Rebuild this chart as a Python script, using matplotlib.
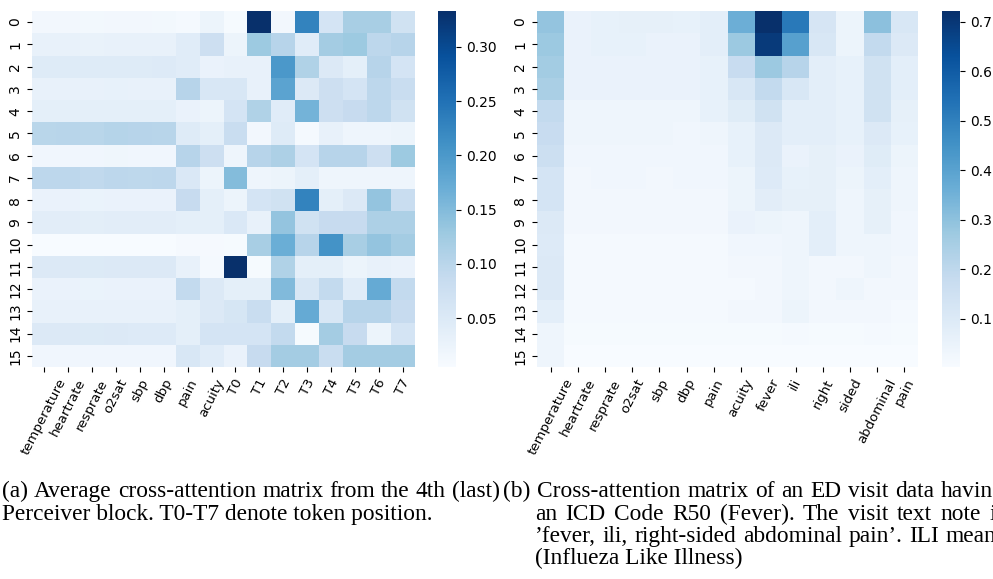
import numpy as np
import matplotlib
matplotlib.use("Agg")
import matplotlib.pyplot as plt
import seaborn as sns

# left: average cross-attention, 4th perceiver block
left_cols = ["temperature", "heartrate", "resprate", "o2sat", "sbp", "dbp",
             "pain", "acuity", "T0", "T1", "T2", "T3", "T4", "T5", "T6", "T7"]
left_vals = [
    [0.014, 0.014, 0.013, 0.014, 0.014, 0.013, 0.011, 0.024, 0.008, 0.333, 0.014, 0.228, 0.063, 0.119, 0.119, 0.070],
    [0.030, 0.030, 0.029, 0.030, 0.030, 0.030, 0.043, 0.076, 0.024, 0.129, 0.103, 0.043, 0.122, 0.129, 0.096, 0.103],
    [0.047, 0.047, 0.046, 0.047, 0.047, 0.048, 0.043, 0.027, 0.030, 0.030, 0.201, 0.109, 0.050, 0.037, 0.103, 0.063],
    [0.030, 0.030, 0.030, 0.031, 0.030, 0.030, 0.103, 0.057, 0.057, 0.030, 0.185, 0.050, 0.076, 0.063, 0.096, 0.083],
    [0.037, 0.037, 0.036, 0.037, 0.037, 0.037, 0.027, 0.024, 0.063, 0.109, 0.043, 0.162, 0.076, 0.086, 0.096, 0.070],
    [0.101, 0.102, 0.100, 0.104, 0.103, 0.102, 0.047, 0.037, 0.083, 0.014, 0.047, 0.011, 0.030, 0.020, 0.020, 0.024],
    [0.017, 0.017, 0.017, 0.018, 0.017, 0.017, 0.103, 0.076, 0.020, 0.103, 0.113, 0.063, 0.103, 0.103, 0.076, 0.129],
    [0.096, 0.097, 0.093, 0.096, 0.095, 0.096, 0.053, 0.024, 0.149, 0.020, 0.024, 0.037, 0.020, 0.020, 0.020, 0.020],
    [0.027, 0.027, 0.026, 0.027, 0.027, 0.027, 0.086, 0.037, 0.024, 0.063, 0.070, 0.228, 0.037, 0.050, 0.136, 0.083],
    [0.040, 0.040, 0.039, 0.040, 0.040, 0.040, 0.037, 0.037, 0.053, 0.030, 0.136, 0.070, 0.086, 0.086, 0.113, 0.113],
    [0.006, 0.006, 0.005, 0.006, 0.006, 0.006, 0.010, 0.010, 0.008, 0.119, 0.169, 0.103, 0.208, 0.119, 0.136, 0.122],
    [0.050, 0.050, 0.049, 0.050, 0.050, 0.050, 0.030, 0.011, 0.333, 0.008, 0.109, 0.037, 0.037, 0.024, 0.030, 0.027],
    [0.027, 0.027, 0.026, 0.027, 0.027, 0.027, 0.090, 0.050, 0.037, 0.037, 0.152, 0.057, 0.090, 0.043, 0.175, 0.090],
    [0.030, 0.030, 0.030, 0.030, 0.030, 0.030, 0.037, 0.050, 0.060, 0.083, 0.037, 0.175, 0.057, 0.103, 0.103, 0.086],
    [0.050, 0.050, 0.049, 0.050, 0.048, 0.048, 0.037, 0.063, 0.063, 0.063, 0.090, 0.008, 0.122, 0.086, 0.024, 0.063],
    [0.017, 0.017, 0.017, 0.017, 0.017, 0.017, 0.057, 0.043, 0.027, 0.086, 0.122, 0.122, 0.083, 0.122, 0.122, 0.122],
]

# right: one ED visit with ICD R50 (fever)
right_cols = ["temperature", "heartrate", "resprate", "o2sat", "sbp", "dbp",
              "pain", "acuity", "fever", "ili", "right", "sided", "abdominal", "pain"]
right_vals = [
    [0.289, 0.051, 0.059, 0.066, 0.066, 0.059, 0.073, 0.361, 0.722, 0.520, 0.124, 0.044, 0.304, 0.116],
    [0.275, 0.051, 0.059, 0.059, 0.051, 0.051, 0.073, 0.275, 0.693, 0.405, 0.116, 0.044, 0.188, 0.102],
    [0.261, 0.051, 0.051, 0.051, 0.051, 0.051, 0.059, 0.174, 0.275, 0.217, 0.073, 0.059, 0.145, 0.073],
    [0.246, 0.051, 0.051, 0.051, 0.051, 0.051, 0.059, 0.116, 0.188, 0.116, 0.073, 0.059, 0.145, 0.073],
    [0.188, 0.037, 0.037, 0.037, 0.037, 0.037, 0.059, 0.088, 0.145, 0.073, 0.073, 0.059, 0.145, 0.066],
    [0.174, 0.037, 0.037, 0.037, 0.037, 0.030, 0.037, 0.059, 0.102, 0.073, 0.073, 0.059, 0.102, 0.059],
    [0.160, 0.030, 0.030, 0.030, 0.030, 0.030, 0.030, 0.059, 0.102, 0.051, 0.066, 0.051, 0.088, 0.044],
    [0.131, 0.023, 0.030, 0.030, 0.023, 0.030, 0.030, 0.044, 0.095, 0.059, 0.066, 0.044, 0.073, 0.037],
    [0.131, 0.023, 0.023, 0.023, 0.023, 0.023, 0.023, 0.044, 0.080, 0.066, 0.066, 0.037, 0.066, 0.037],
    [0.102, 0.023, 0.023, 0.023, 0.023, 0.023, 0.023, 0.051, 0.044, 0.037, 0.073, 0.037, 0.066, 0.030],
    [0.095, 0.015, 0.015, 0.015, 0.015, 0.015, 0.015, 0.030, 0.030, 0.037, 0.073, 0.037, 0.037, 0.030],
    [0.102, 0.015, 0.015, 0.015, 0.015, 0.015, 0.015, 0.023, 0.023, 0.037, 0.023, 0.023, 0.037, 0.023],
    [0.102, 0.015, 0.015, 0.015, 0.015, 0.015, 0.015, 0.015, 0.023, 0.037, 0.023, 0.037, 0.023, 0.023],
    [0.073, 0.015, 0.015, 0.015, 0.015, 0.015, 0.015, 0.023, 0.023, 0.044, 0.023, 0.023, 0.023, 0.015],
    [0.037, 0.008, 0.008, 0.008, 0.008, 0.008, 0.008, 0.008, 0.008, 0.015, 0.008, 0.008, 0.015, 0.008],
    [0.037, 0.002, 0.002, 0.002, 0.002, 0.002, 0.002, 0.002, 0.002, 0.002, 0.002, 0.002, 0.002, 0.002],
]

row_labels = [str(i) for i in range(16)]

caption_a = ["(a) Average cross-attention matrix from the 4th (last)",
             "Perceiver block. T0-T7 denote token position."]
caption_b = ["(b) Cross-attention matrix of an ED visit data having",
             "an ICD Code R50 (Fever).  The visit text note is",
             "\u2019fever, ili, right-sided abdominal pain\u2019.  ILI means",
             "(Influeza Like Illness)"]

W, H = 993, 579
fig = plt.figure(figsize=(W / 100, H / 100), dpi=100)

def box(x0, y0, x1, y1):
    return [x0 / W, 1 - y1 / H, (x1 - x0) / W, (y1 - y0) / H]

ax1 = fig.add_axes(box(32, 11, 415, 367))
cax1 = fig.add_axes(box(438, 11, 456, 367))
ax2 = fig.add_axes(box(537, 11, 918, 367))
cax2 = fig.add_axes(box(942, 11, 960, 367))

sns.heatmap(np.array(left_vals), ax=ax1, cbar_ax=cax1, cmap="Blues",
            xticklabels=left_cols, yticklabels=row_labels)
sns.heatmap(np.array(right_vals), ax=ax2, cbar_ax=cax2, cmap="Blues",
            xticklabels=right_cols, yticklabels=row_labels)

for ax in (ax1, ax2):
    ax.tick_params(axis="y", labelsize=10)
    ax.tick_params(axis="x", labelsize=9.5)
    plt.setp(ax.get_xticklabels(), rotation=63, ha="center")
    plt.setp(ax.get_yticklabels(), rotation=90, va="center")
for cax in (cax1, cax2):
    cax.tick_params(labelsize=10)

serif = {"family": "Liberation Serif", "size": 16.8}
renderer = fig.canvas.get_renderer()

def put_line(line, x0, y, x1=None):
    # x0, x1, y in pixels from top-left; x1 given -> justify words
    if x1 is None:
        fig.text(x0 / W, 1 - y / H, line, ha="left", va="baseline", **serif)
        return
    words = line.split()
    arts = [fig.text(0, 1 - y / H, w, ha="left", va="baseline", **serif) for w in words]
    widths = [a.get_window_extent(renderer).width for a in arts]
    gap = (x1 - x0 - sum(widths)) / (len(words) - 1)
    x = x0
    for a, w in zip(arts, widths):
        a.set_x(x / W)
        x += w + gap

put_line(caption_a[0], 2, 497, 500)
put_line(caption_a[1], 2, 520)
put_line(caption_b[0], 503, 497, 1005)
put_line(caption_b[1], 535, 520, 1005)
put_line(caption_b[2], 535, 542, 1005)
put_line(caption_b[3], 535, 564)

fig.savefig("out.png", dpi=100)
